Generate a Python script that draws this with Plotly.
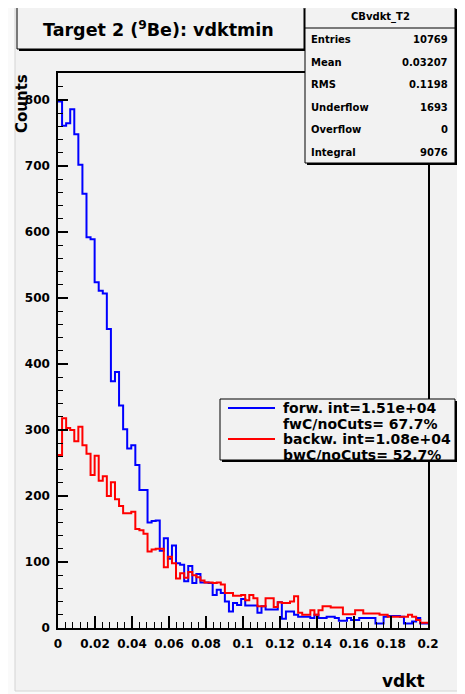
import plotly.graph_objects as go

# ---------------- data ----------------
bin_width = 0.0022
forw_counts = [798, 761, 765, 786, 748, 702, 658, 592, 589, 524,
               511, 507, 453, 374, 388, 337, 301, 272, 277, 247,
               209, 209, 160, 162, 163, 117, 136, 105, 125, 98,
               96, 71, 94, 68, 82, 69, 69, 68, 50, 58,
               53, 40, 25, 38, 35, 44, 34, 34, 34, 23,
               33, 28, 28, 28, 39, 14, 25, 25, 20, 17,
               17, 17, 15, 20, 15, 15, 17, 17, 15, 11,
               11, 15, 12, 12, 15, 15, 15, 15, 7, 7,
               17, 18, 18, 18, 17, 7, 7, 10, 15, 7, 7]
backw_counts = [262, 318, 303, 300, 283, 305, 277, 264, 232, 261,
                223, 230, 200, 221, 195, 185, 174, 174, 176, 150,
                148, 143, 116, 119, 120, 120, 92, 108, 98, 75,
                83, 76, 85, 80, 77, 72, 69, 69, 68, 69,
                66, 53, 53, 49, 49, 50, 42, 50, 45, 33,
                33, 45, 45, 32, 39, 38, 38, 40, 48, 23,
                20, 20, 27, 20, 27, 33, 33, 31, 31, 31,
                21, 21, 21, 27, 27, 22, 22, 22, 22, 20,
                20, 17, 17, 17, 17, 17, 20, 17, 12, 8, 8]
x_tickvals = [0, 0.02, 0.04, 0.06, 0.08, 0.1, 0.12, 0.14, 0.16, 0.18, 0.2]
x_ticktext = ["0", "0.02", "0.04", "0.06", "0.08", "0.1", "0.12", "0.14", "0.16", "0.18", "0.2"]
y_tickvals = [0, 100, 200, 300, 400, 500, 600, 700, 800]

title_text = "Target 2 (<sup>9</sup>Be): vdktmin"
stats_name = "CBvdkt_T2"
stats_labels = ["Entries", "Mean", "RMS", "Underflow", "Overflow", "Integral"]
stats_values = ["10769", "0.03207", "0.1198", "1693", "0", "9076"]
legend_lines = [["forw. int=1.51e+04", "fwC/noCuts= 67.7%"],
                ["backw. int=1.08e+04", "bwC/noCuts= 52.7%"]]
series_colors = ["#0000ff", "#ff0000"]

# ---------------- geometry (page pixels) ----------------
PAGE_W, PAGE_H = 465, 694
OFF = 8                      # browser body margin
W, H = PAGE_W - OFF, PAGE_H - OFF
L, R, T, B = 58, 428, 73, 628
BG = "#f2f2f2"
FONT = "DejaVu Sans, Liberation Sans, Arial, sans-serif"


def px(x):
    return (x - L) / (R - L)


def py(y):
    return (B - y) / (B - T)


def step_xy(counts):
    n = len(counts)
    xs = [i * bin_width for i in range(n + 1)]
    ys = list(counts) + [counts[-1]]
    return xs, ys


fig = go.Figure()
for counts, col in zip([forw_counts, backw_counts], series_colors):
    xs, ys = step_xy(counts)
    fig.add_trace(go.Scatter(x=xs, y=ys, mode="lines", line=dict(color=col, width=2, shape="hv"),
                             showlegend=False, hoverinfo="skip"))

shapes = []
annotations = []


def box(x0, y0, x1, y1, shadow=2):
    shapes.append(dict(type="rect", xref="paper", yref="paper", x0=px(x0 + shadow), x1=px(x1 + shadow),
                       y0=py(y0 + shadow), y1=py(y1 + shadow), fillcolor="black", line=dict(width=0), layer="above"))
    shapes.append(dict(type="rect", xref="paper", yref="paper", x0=px(x0), x1=px(x1),
                       y0=py(y0), y1=py(y1), fillcolor=BG, line=dict(color="black", width=1), layer="above"))


def text(x, y, s, size, xanchor="center", bold=True, angle=0, color="black"):
    annotations.append(dict(xref="paper", yref="paper", x=px(x), y=py(y), text=s, showarrow=False,
                            xanchor=xanchor, yanchor="middle", textangle=angle,
                            font=dict(family=FONT, size=size, color=color, weight="bold" if bold else "normal")))


# background canvas
shapes.append(dict(type="rect", xref="paper", yref="paper", x0=px(15), x1=px(PAGE_W + 5), y0=py(691), y1=py(-5),
                   fillcolor=BG, line=dict(color="#d4d4d4", width=1), layer="below"))

# title box
box(17, 7, 304, 49)
text(158, 29, title_text, 17.5)

# stats box
box(305, 7, 455, 163)
shapes.append(dict(type="line", xref="paper", yref="paper", x0=px(305), x1=px(455), y0=py(28), y1=py(28),
                   line=dict(color="black", width=1), layer="above"))
text(380, 17, stats_name, 10)
for i, (lab, val) in enumerate(zip(stats_labels, stats_values)):
    yy = 40 + i * 22.4
    text(309, yy, lab, 10, xanchor="left")
    text(450, yy, val, 10, xanchor="right")

# legend box
box(220, 399, 455, 460)
for i, (lines, col) in enumerate(zip(legend_lines, series_colors)):
    y1 = 408 + i * 31
    shapes.append(dict(type="line", xref="paper", yref="paper", x0=px(228), x1=px(275), y0=py(y1), y1=py(y1),
                       line=dict(color=col, width=2), layer="above"))
    text(281, y1, lines[0], 14, xanchor="left")
    text(281, y1 + 16, lines[1], 14, xanchor="left")

# axis titles
text(22, 104, "Counts", 15, angle=-90)
text(427, 681, "vdkt", 17, xanchor="right")

fig.update_layout(
    width=W, height=H, autosize=False,
    margin=dict(l=L - OFF, r=PAGE_W - R, t=T - OFF, b=(H + OFF) - B, pad=0),
    paper_bgcolor="#fafafa", plot_bgcolor=BG,
    shapes=shapes, annotations=annotations,
    font=dict(family=FONT, color="black"),
)
fig.update_xaxes(range=[0, 0.2], showgrid=False, zeroline=False, showline=True, linecolor="black",
                 linewidth=1.5, mirror=True, ticks="inside", ticklen=12, tickwidth=1.5, tickcolor="black",
                 tickvals=x_tickvals, ticktext=x_ticktext, ticklabelstandoff=4,
                 tickfont=dict(family=FONT, size=12, weight="bold"),
                 minor=dict(ticks="inside", ticklen=6, tickwidth=1, tickcolor="black", dtick=0.004, tick0=0,
                            showgrid=False))
fig.update_yaxes(range=[0, 841], showgrid=False, zeroline=False, showline=True, linecolor="black",
                 linewidth=1.5, mirror=True, ticks="inside", ticklen=10, tickwidth=1.5, tickcolor="black",
                 tickvals=y_tickvals, ticklabelstandoff=4,
                 tickfont=dict(family=FONT, size=12, weight="bold"),
                 minor=dict(ticks="inside", ticklen=5, tickwidth=1, tickcolor="black", dtick=20, tick0=0,
                            showgrid=False))

fig.write_html("out.html")
